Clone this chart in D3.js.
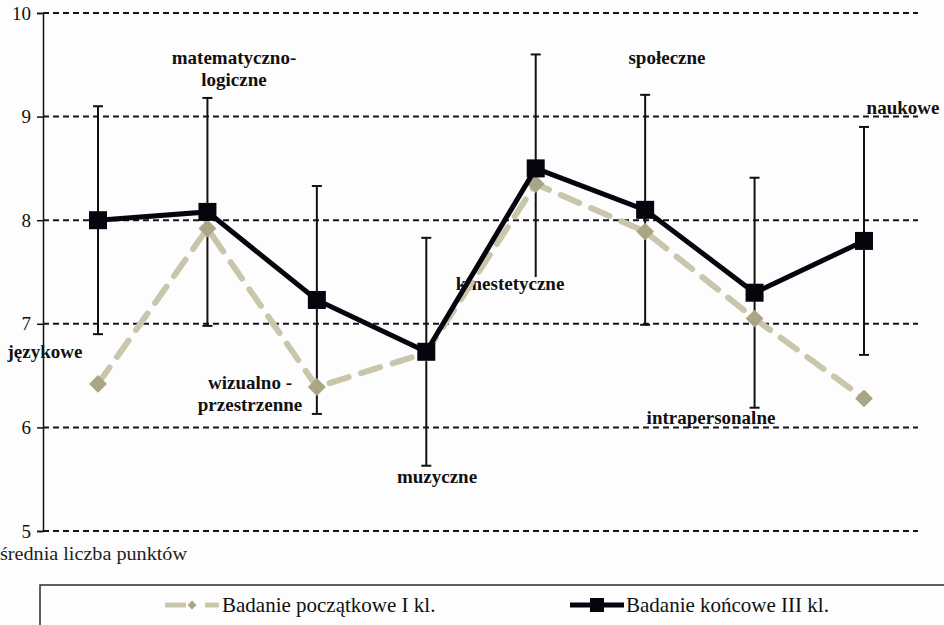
<!DOCTYPE html>
<html>
<head>
<meta charset="utf-8">
<script src="https://cdn.jsdelivr.net/npm/d3@7"></script>
<style>
  html, body { margin: 0; padding: 0; background: #fdfdfd; }
  svg { display: block; }
</style>
</head>
<body>
<svg id="chart" width="944" height="625"></svg>
<script>
// Intelligence types (category labels)
const categories = ["językowe", "matematyczno-logiczne", "wizualno-przestrzenne", "muzyczne",
                    "kinestetyczne", "społeczne", "intrapersonalne", "naukowe"];
// Mean scores, initial survey (grade I)
const initialScores = [6.42, 7.92, 6.39, 6.72, 8.35, 7.89, 7.05, 6.28];
// Mean scores, final survey (grade III)
const finalScores = [8.00, 8.08, 7.23, 6.73, 8.50, 8.10, 7.30, 7.80];
// Error bar half-widths for the final survey
const finalErrors = [1.10, 1.10, 1.10, 1.10, 1.10, 1.11, 1.11, 1.10];
const yTicks = [5, 6, 7, 8, 9, 10];
const seriesNames = ["Badanie początkowe I kl.", "Badanie końcowe III kl."];
const yAxisTitle = "średnia liczba punktów";
// Category annotation text lines
const labelLines = [["językowe"], ["matematyczno-", "logiczne"], ["wizualno -", "przestrzenne"], ["muzyczne"],
                    ["kinestetyczne"], ["społeczne"], ["intrapersonalne"], ["naukowe"]];

const FONT = "'Liberation Serif', 'Times New Roman', Times, 'DejaVu Serif', serif";
const BG = "#fdfdfd";

const svg = d3.select("#chart").attr("font-family", FONT);
const x = d3.scalePoint().domain(categories).range([98, 864]);
const y = d3.scaleLinear().domain([5, 10]).range([531, 13]);

const beigeLine = "#c9c6ac";
const beigeMark = "#aaa585";

// Dashed horizontal gridlines
svg.append("g").selectAll("line").data(yTicks).join("line")
  .attr("x1", 43).attr("x2", 918)
  .attr("y1", d => y(d)).attr("y2", d => y(d))
  .attr("stroke", "#151520").attr("stroke-width", 2)
  .attr("stroke-dasharray", "6,4");

// Y axis
const yAxis = svg.append("g").attr("transform", "translate(43,0)")
  .call(d3.axisLeft(y).tickValues(yTicks).tickSize(6).tickPadding(6).tickFormat(d3.format("d")));
yAxis.attr("font-family", FONT);
yAxis.select(".domain").attr("stroke", "#111").attr("stroke-width", 1.5);
yAxis.selectAll(".tick line").attr("stroke", "#111").attr("stroke-width", 1.5);
yAxis.selectAll(".tick text").attr("font-size", 19).attr("fill", "#111");

// Axis title below the plot
svg.append("text").attr("x", 0).attr("y", 560)
  .attr("font-size", 18).attr("textLength", 187).attr("lengthAdjust", "spacingAndGlyphs")
  .attr("fill", "#222").text(yAxisTitle);

// Error bars of the final survey
const eb = svg.append("g").attr("stroke", "#111").attr("stroke-width", 2);
categories.forEach((c, i) => {
  const lo = finalScores[i] - finalErrors[i], hi = finalScores[i] + finalErrors[i];
  eb.append("line").attr("x1", x(c)).attr("x2", x(c)).attr("y1", y(hi)).attr("y2", y(lo));
  eb.append("line").attr("x1", x(c) - 5).attr("x2", x(c) + 5).attr("y1", y(hi)).attr("y2", y(hi));
  eb.append("line").attr("x1", x(c) - 5).attr("x2", x(c) + 5).attr("y1", y(lo)).attr("y2", y(lo));
});

// Category annotations, each on a small opaque box (ascender to baseline)
const labelPos = [[45, 358], [234, 64], [250, 389], [437, 483], [510, 290], [667, 64], [711, 424], [903, 114]];
const labels = svg.append("g");
labelLines.forEach((lines, i) => {
  const g = labels.append("g");
  const bgRect = g.append("rect").attr("fill", BG);
  const t = g.append("text")
    .attr("x", labelPos[i][0]).attr("y", labelPos[i][1])
    .attr("text-anchor", "middle").attr("font-weight", "bold")
    .attr("font-size", 19).attr("fill", "#111");
  lines.forEach((ln, j) => {
    t.append("tspan").attr("x", labelPos[i][0]).attr("dy", j === 0 ? 0 : 22).text(ln);
  });
  const bb = t.node().getBBox();
  const top = labelPos[i][1] - 13;
  const bottom = labelPos[i][1] + 22 * (lines.length - 1);
  bgRect.attr("x", bb.x).attr("width", bb.width).attr("y", top).attr("height", bottom - top);
});

const line = d3.line().x((d, i) => x(categories[i])).y(d => y(d));

// Initial survey: dashed beige line with diamonds
svg.append("path").datum(initialScores)
  .attr("d", line).attr("fill", "none")
  .attr("stroke", beigeLine).attr("stroke-width", 6)
  .attr("stroke-dasharray", "20,13").attr("stroke-linecap", "round");
svg.append("g").selectAll("path").data(initialScores).join("path")
  .attr("d", d3.symbol(d3.symbolSquare, 160))
  .attr("transform", (d, i) => `translate(${x(categories[i])},${y(d)}) rotate(45)`)
  .attr("fill", beigeMark);

// Final survey: solid black line with squares
svg.append("path").datum(finalScores)
  .attr("d", line).attr("fill", "none")
  .attr("stroke", "#05050d").attr("stroke-width", 5).attr("stroke-linejoin", "miter");
svg.append("g").selectAll("rect").data(finalScores).join("rect")
  .attr("x", (d, i) => x(categories[i]) - 9).attr("y", d => y(d) - 9)
  .attr("width", 18).attr("height", 18).attr("fill", "#05050d");

// Legend
const lg = svg.append("g");
lg.append("rect").attr("x", 40).attr("y", 585).attr("width", 920).attr("height", 60)
  .attr("fill", "none").attr("stroke", "#2a2a3a").attr("stroke-width", 1.5);
lg.append("line").attr("x1", 165).attr("x2", 186).attr("y1", 605).attr("y2", 605)
  .attr("stroke", beigeLine).attr("stroke-width", 5);
lg.append("line").attr("x1", 205).attr("x2", 219).attr("y1", 605).attr("y2", 605)
  .attr("stroke", beigeLine).attr("stroke-width", 5);
lg.append("path").attr("d", d3.symbol(d3.symbolSquare, 40))
  .attr("transform", "translate(192,605) rotate(45)").attr("fill", beigeMark);
lg.append("text").attr("x", 222).attr("y", 612).attr("font-size", 21).attr("fill", "#111")
  .text(seriesNames[0]);
lg.append("line").attr("x1", 570).attr("x2", 624).attr("y1", 605).attr("y2", 605)
  .attr("stroke", "#05050d").attr("stroke-width", 5);
lg.append("rect").attr("x", 590).attr("y", 598).attr("width", 14).attr("height", 14).attr("fill", "#05050d");
lg.append("text").attr("x", 626).attr("y", 612).attr("font-size", 21).attr("fill", "#111")
  .text(seriesNames[1]);
</script>
</body>
</html>
